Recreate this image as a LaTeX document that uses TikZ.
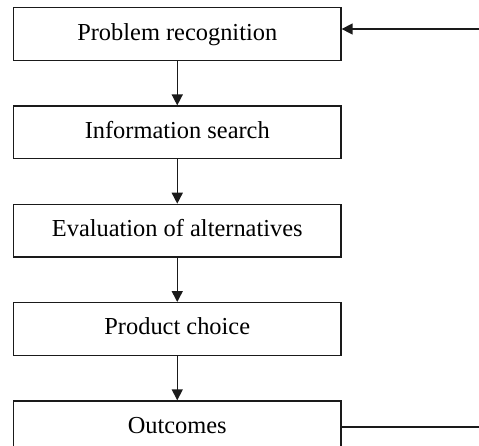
\documentclass[tikz,border=0pt]{standalone}
\usepackage{fontspec}
\setmainfont{Liberation Serif}
\usetikzlibrary{positioning,arrows.meta}
\definecolor{FlowLine}{HTML}{1A1A1A}
\begin{document}
\begin{tikzpicture}[x=1pt,y=1pt,
  stage/.style={draw=FlowLine,line width=1.3pt,minimum width=327.5pt,minimum height=52.5pt,text height=17pt,text depth=5pt,inner sep=0pt,font=\fontsize{24.4}{28}\selectfont},
  flow/.style={draw=FlowLine,line width=1.5pt,-{Triangle[length=11pt,width=11pt]}}]
\clip (0,0) rectangle (479,-445);
\node[stage] (pr) at (177.25,-34) {Problem recognition};
\node[stage,below=44.5pt of pr] (is) {Information search};
\node[stage,below=44.5pt of is] (ea) {Evaluation of alternatives};
\node[stage,below=44.5pt of ea] (pc) {Product choice};
\node[stage,below=44.5pt of pc] (oc) {Outcomes};
\coordinate (fbin) at (479,-424);
\coordinate (fbout) at (479,-29);
\draw[flow] (pr) -- (is);
\draw[flow] (is) -- (ea);
\draw[flow] (ea) -- (pc);
\draw[flow] (pc) -- (oc);
\draw[FlowLine,line width=1.5pt] (oc.east) -- (oc.east -| fbin);
\draw[flow] (fbout) -- ([yshift=5pt]pr.east);
\end{tikzpicture}
\end{document}
